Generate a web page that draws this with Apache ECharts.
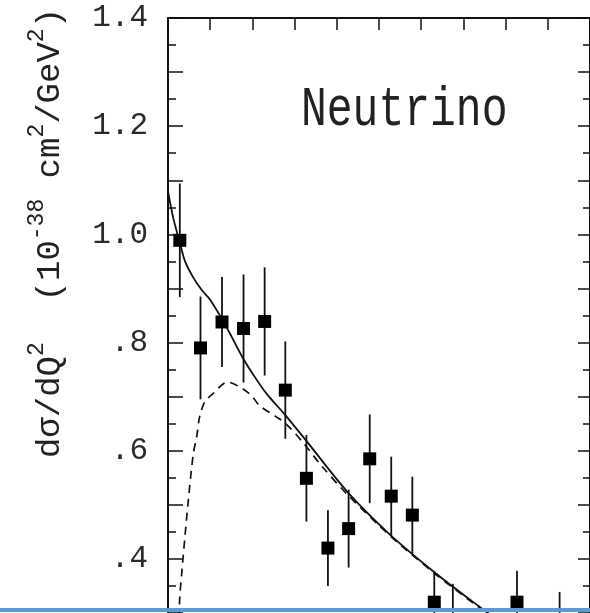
<!DOCTYPE html>
<html><head><meta charset="utf-8">
<script src="https://cdn.jsdelivr.net/npm/echarts@6/dist/echarts.min.js"></script>
<style>html,body{margin:0;padding:0;background:#fff}#c{width:590px;height:613px}</style>
</head><body><div id="c"></div>
<script>
// Measured data points (Q^2 in GeV^2, dσ/dQ^2, symmetric error)
const pointQ   = [0.028, 0.077, 0.128, 0.179, 0.229, 0.278, 0.328, 0.379, 0.428, 0.478, 0.529, 0.579, 0.631, 0.675, 0.827, 0.928];
const pointV   = [0.989, 0.790, 0.838, 0.826, 0.839, 0.712, 0.549, 0.420, 0.456, 0.585, 0.516, 0.481, 0.320, 0.289, 0.320, 0.270];
const pointErr = [0.105, 0.095, 0.083, 0.100, 0.100, 0.090, 0.080, 0.070, 0.072, 0.082, 0.073, 0.071, 0.057, 0.065, 0.058, 0.069];

// Solid theory curve
const solidQ = [0, 0.0125, 0.028, 0.04, 0.06, 0.08, 0.099, 0.126, 0.15, 0.177, 0.201, 0.232, 0.279, 0.326, 0.424, 0.526, 0.632, 0.734, 0.78];
const solidV = [1.08, 1.03, 0.985, 0.951, 0.92, 0.897, 0.88, 0.846, 0.812, 0.772, 0.742, 0.707, 0.665, 0.620, 0.525, 0.445, 0.375, 0.314, 0.288];

// Dashed theory curve
const dashQ = [0.026, 0.028, 0.032, 0.040, 0.048, 0.060, 0.068, 0.075, 0.087, 0.107, 0.141, 0.176, 0.200, 0.216, 0.256, 0.279, 0.318, 0.365, 0.424, 0.526, 0.632, 0.734, 0.78];
const dashV = [0.29, 0.33, 0.369, 0.44, 0.507, 0.595, 0.626, 0.663, 0.690, 0.706, 0.727, 0.715, 0.700, 0.684, 0.663, 0.650, 0.617, 0.571, 0.520, 0.443, 0.373, 0.312, 0.286];

// Y tick labels
const yLabelVals  = [0.4, 0.6, 0.8, 1.0, 1.2, 1.4];
const yLabelTexts = ['.4', '.6', '.8', '1.0', '1.2', '1.4'];

const titleText = 'Neutrino';

const ink = '#111111';
const chart = echarts.init(document.getElementById('c'), null, {renderer: 'canvas'});

const pts = pointQ.map((q, i) => [q, pointV[i]]);
const errs = pointQ.map((q, i) => [q, pointV[i] - pointErr[i], pointV[i] + pointErr[i]]);
const solid = solidQ.map((q, i) => [q, solidV[i]]);
const dash = dashQ.map((q, i) => [q, dashV[i]]);

function yFmt(v) {
  for (let i = 0; i < yLabelVals.length; i++) {
    if (Math.abs(v - yLabelVals[i]) < 1e-6) return yLabelTexts[i];
  }
  return '';
}

const yAxisCommon = {
  type: 'value', min: 0.3, max: 1.4, interval: 0.1,
  axisLine: {show: true, onZero: false, lineStyle: {color: ink, width: 2}},
  axisTick: {show: true, inside: true, length: 15, lineStyle: {color: ink, width: 1.5}},
  minorTick: {show: true, splitNumber: 2, length: 8, lineStyle: {color: ink, width: 1.5}},
  splitLine: {show: false},
  minorSplitLine: {show: false}
};

const option = {
  animation: false,
  backgroundColor: '#fff',
  grid: {left: 168, right: -3, top: 18, bottom: -4.4, containLabel: false},
  xAxis: [{
    type: 'value', min: 0, max: 1, interval: 0.1, position: 'top',
    axisLine: {show: true, onZero: false, lineStyle: {color: ink, width: 2}},
    axisTick: {show: true, inside: true, length: 12, lineStyle: {color: ink, width: 1.5}},
    axisLabel: {show: false},
    splitLine: {show: false}
  }],
  yAxis: [
    Object.assign({}, yAxisCommon, {
      position: 'left',
      axisLabel: {show: true, formatter: yFmt, fontFamily: 'Liberation Mono', fontSize: 31, color: '#2a2a2a', margin: 20}
    }),
    Object.assign({}, yAxisCommon, {
      position: 'right',
      axisTick: {show: true, inside: true, length: 12, lineStyle: {color: ink, width: 1.5}},
      minorTick: {show: true, splitNumber: 2, length: 7, lineStyle: {color: ink, width: 1.5}},
      axisLabel: {show: false}
    })
  ],
  series: [
    {
      type: 'custom', name: 'err', xAxisIndex: 0, yAxisIndex: 0,
      data: errs, clip: true,
      renderItem: function (params, api) {
        const x = api.value(0);
        const lo = api.coord([x, api.value(1)]);
        const hi = api.coord([x, api.value(2)]);
        return {type: 'line', shape: {x1: lo[0], y1: lo[1], x2: hi[0], y2: hi[1]},
                style: {stroke: ink, lineWidth: 1.8}};
      },
      z: 3
    },
    {
      type: 'line', name: 'solid', data: solid, smooth: 0.3, showSymbol: false, clip: true,
      lineStyle: {color: ink, width: 1.8}, z: 2
    },
    {
      type: 'line', name: 'dashed', data: dash, smooth: 0.3, showSymbol: false, clip: true,
      lineStyle: {color: ink, width: 1.7, type: [8, 6]}, z: 2
    },
    {
      type: 'scatter', name: 'data', data: pts, symbol: 'rect', symbolSize: 13, clip: true,
      itemStyle: {color: '#000', opacity: 1}, z: 4
    }
  ],
  graphic: [
    {
      type: 'text', x: 301, y: 110, scaleY: 1.3,
      style: {text: titleText, fontFamily: 'Liberation Mono', fontSize: 43, fill: '#222',
              align: 'left', verticalAlign: 'middle'}
    },
    {
      type: 'text', x: 46, y: 233, rotation: Math.PI / 2,
      style: {
        text: '{m|dσ/dQ}{s|2}{m|  (10}{s|-38}{m| cm}{s|2}{m|/GeV}{s|2}{m|)}',
        align: 'center', verticalAlign: 'middle',
        rich: {
          m: {fontFamily: 'Liberation Mono', fontSize: 34, lineHeight: 42, fill: '#222', verticalAlign: 'bottom'},
          s: {fontFamily: 'Liberation Mono', fontSize: 23, lineHeight: 23, fill: '#222', verticalAlign: 'top'}
        }
      }
    },
    {
      type: 'rect', shape: {x: 0, y: 608, width: 590, height: 4},
      style: {fill: '#5b9bd5'}, z: 100
    }
  ]
};
chart.setOption(option);
</script>
</body></html>
